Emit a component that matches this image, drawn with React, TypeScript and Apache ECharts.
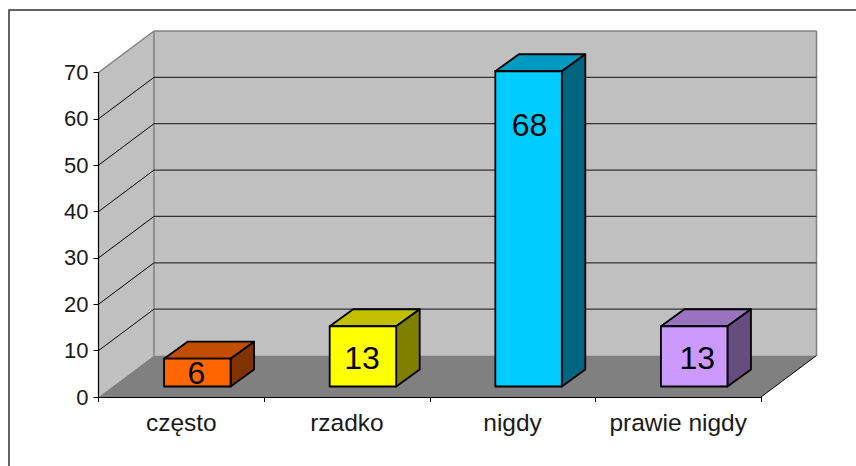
import React, { useEffect, useRef } from "react";
import * as echarts from "echarts";

const categories = ["często", "rzadko", "nigdy", "prawie nigdy"];
const values = [6, 13, 68, 13];
const yTicks = [0, 10, 20, 30, 40, 50, 60, 70];
const frontColors = ["#FF6600", "#FFFF00", "#00CCFF", "#CC99FF"];
const topColors = ["#C04D00", "#C0C000", "#0099C0", "#9973C0"];
const sideColors = ["#803300", "#808000", "#006680", "#664D80"];
const labelDx = [-1, -1, 1, 3];
const labelDy = [14.5, 31.5, 54, 31.5];

const FONT = '"Liberation Sans", Arial, sans-serif';
const WALL_DX = 55.5;
const WALL_DY = -41.5;
const BAR_SHIFT_X = 16;
const BAR_SHIFT_Y = -10.5;
const BAR_W = 66.5;
const DEPTH_X = 23.5;
const DEPTH_Y = -17;

function renderWall(params: any, api: any) {
  const cs = params.coordSys;
  const v = api.value(1);
  const y = api.coord([0, v])[1];
  const left = cs.x;
  const right = cs.x + cs.width;
  const bottom = cs.y + cs.height;
  const top = cs.y;
  const children: any[] = [];
  const poly = (points: number[][], fill: string) => ({
    type: "polygon",
    shape: { points },
    style: { fill, stroke: "none" },
  });
  const line = (x1: number, y1: number, x2: number, y2: number, stroke: string, lineWidth: number) => ({
    type: "line",
    shape: { x1, y1, x2, y2 },
    style: { stroke, lineWidth, fill: "none" },
  });
  if (params.dataIndex === 0) {
    const bl = left + WALL_DX;
    const br = right + WALL_DX;
    const bt = top + WALL_DY;
    const bb = bottom + WALL_DY;
    children.push(
      poly([[bl, bt], [br, bt], [br, bb], [bl, bb]], "#C0C0C0"),
      poly([[left, top], [bl, bt], [bl, bb], [left, bottom]], "#C0C0C0"),
      poly([[left, bottom], [right, bottom], [br, bb], [bl, bb]], "#808080"),
      line(left, top, bl, bt, "#808080", 1.5),
      line(bl, bt, br, bt, "#808080", 1.5),
      line(bl, bt, bl, bb, "#808080", 1.5),
      line(br, bt, br, bb, "#808080", 1.5),
      line(right, bottom, br, bb, "#000000", 1)
    );
  } else if (v < yTicks[yTicks.length - 1]) {
    children.push(
      line(left, y, left + WALL_DX, y + WALL_DY, "#000000", 1),
      line(left + WALL_DX, y + WALL_DY, right + WALL_DX, y + WALL_DY, "#333333", 1.2)
    );
  }
  return { type: "group", children };
}

function renderBar(params: any, api: any) {
  const i = params.dataIndex;
  const base = api.coord([api.value(0), 0]);
  const tip = api.coord([api.value(0), api.value(1)]);
  const x0 = base[0] + BAR_SHIFT_X - BAR_W / 2;
  const x1 = x0 + BAR_W;
  const yb = base[1] + BAR_SHIFT_Y;
  const yt = tip[1] + BAR_SHIFT_Y;
  const style = (fill: string) => ({ fill, stroke: "#000000", lineWidth: 1.8, lineJoin: "round" });
  return {
    type: "group",
    children: [
      {
        type: "polygon",
        shape: { points: [[x0, yt], [x0 + DEPTH_X, yt + DEPTH_Y], [x1 + DEPTH_X, yt + DEPTH_Y], [x1, yt]] },
        style: style(topColors[i]),
      },
      {
        type: "polygon",
        shape: { points: [[x1, yt], [x1 + DEPTH_X, yt + DEPTH_Y], [x1 + DEPTH_X, yb + DEPTH_Y], [x1, yb]] },
        style: style(sideColors[i]),
      },
      {
        type: "polygon",
        shape: { points: [[x0, yt], [x1, yt], [x1, yb], [x0, yb]] },
        style: style(frontColors[i]),
      },
      {
        type: "text",
        style: {
          text: String(api.value(1)),
          x: (x0 + x1) / 2 + labelDx[i],
          y: yt + labelDy[i],
          align: "center",
          verticalAlign: "middle",
          fill: "#000000",
          font: `32px ${FONT}`,
        },
      },
    ],
  };
}

export default function App() {
  const ref = useRef<HTMLDivElement>(null);
  useEffect(() => {
    document.body.style.margin = "0";
    const chart = echarts.init(ref.current!, undefined, { renderer: "svg" });
    chart.setOption({
      animation: false,
      backgroundColor: "#FFFFFF",
      grid: { left: 98.5, right: 95, top: 72.5, bottom: 69, containLabel: false },
      graphic: [
        {
          type: "rect",
          shape: { x: 9, y: 10, width: 900, height: 500 },
          style: { fill: "none", stroke: "#333333", lineWidth: 1.5 },
          silent: true,
        },
      ],
      xAxis: {
        type: "category",
        data: categories,
        z: 5,
        axisLine: { lineStyle: { color: "#000000", width: 1.2 } },
        axisTick: { show: true, length: 5, alignWithLabel: false, lineStyle: { color: "#000000" } },
        axisLabel: { color: "#1a1a1a", fontFamily: FONT, fontSize: 24.5, margin: 13, interval: 0 },
        splitLine: { show: false },
      },
      yAxis: {
        type: "value",
        min: 0,
        max: 70,
        interval: 10,
        z: 5,
        axisLine: { show: true, lineStyle: { color: "#000000", width: 1.2 } },
        axisTick: { show: true, length: 5, lineStyle: { color: "#000000" } },
        axisLabel: { color: "#1a1a1a", fontFamily: FONT, fontSize: 22, margin: 10 },
        splitLine: { show: false },
      },
      series: [
        {
          type: "custom",
          z: 1,
          silent: true,
          renderItem: renderWall,
          data: yTicks.map((v) => [0, v]),
          encode: { x: 0, y: 1 },
        },
        {
          type: "custom",
          z: 2,
          silent: true,
          renderItem: renderBar,
          data: values.map((v, i) => [i, v]),
          encode: { x: 0, y: 1 },
        },
      ],
    });
    return () => chart.dispose();
  }, []);
  return <div ref={ref} style={{ width: 856, height: 466, display: "block" }} />;
}
